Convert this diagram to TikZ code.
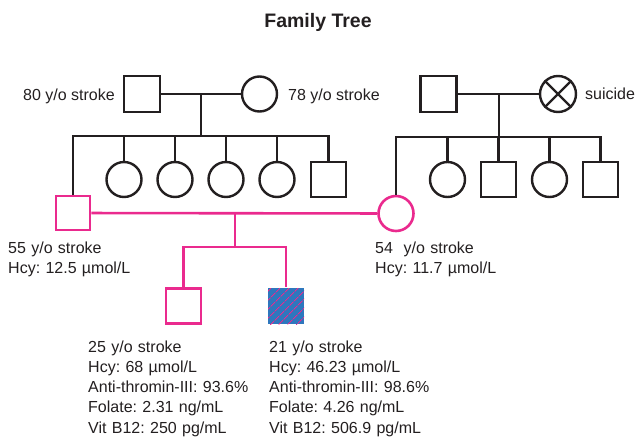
\documentclass[tikz,border=0pt]{standalone}
\usepackage{fontspec}
\setmainfont{Liberation Sans}
\usetikzlibrary{patterns.meta}
\definecolor{ink}{HTML}{231F20}
\definecolor{pk}{HTML}{EA2A8E}
\definecolor{fb}{HTML}{2E77BE}
\frenchspacing
\begin{document}
\begin{tikzpicture}[x=1pt,y=-1pt,
  ln/.style={draw=ink,line width=2.4pt},
  pl/.style={draw=pk,line width=2.6pt},
  male/.style={rectangle,minimum size=36pt,inner sep=0pt,line width=2.4pt,draw=ink,fill=white},
  female/.style={circle,minimum size=35pt,inner sep=0pt,line width=2.4pt,draw=ink,fill=white},
  lbl/.style={inner sep=0pt,text=ink,font=\fontsize{16}{20.3}\selectfont\frenchspacing},
  blk/.style={lbl,text width=220pt,align=left,anchor=base west}]
\useasboundingbox (0,0) rectangle (635,437);
\node[inner sep=0pt,anchor=base,text=ink,font=\fontsize{19.5}{22}\selectfont\bfseries] (title) at (318,27) {Family Tree};
% generation I left
\node[male] (ga) at (142,94) {};
\node[female] (gb) at (259.5,94) {};
\coordinate (ma) at (201,94);
\coordinate (sa) at (201,136);
% generation I right
\node[male] (gc) at (438.5,94) {};
\node[female,minimum size=36pt] (gd) at (558,94) {};
\coordinate (mb) at (499,94);
\coordinate (sb) at (499,137);
% children left family
\node[female] (l1) at (124,179.5) {};
\node[female] (l2) at (175,179.5) {};
\node[female] (l3) at (226,179.5) {};
\node[female] (l4) at (277,179.5) {};
\node[male,minimum size=35pt] (l5) at (328.5,179.5) {};
% children right family
\node[female] (r1) at (447.5,179.5) {};
\node[male,minimum size=35pt] (r2) at (498.5,179.5) {};
\node[female] (r3) at (549.5,179.5) {};
\node[male,minimum size=35pt] (r4) at (600.5,179.5) {};
% generation II couple
\node[male,draw=pk,minimum size=34pt,line width=2.6pt] (pa) at (73,213) {};
\node[female,draw=pk,line width=2.6pt] (pb) at (396,213.5) {};
\coordinate (mc) at (235,213);
\coordinate (sc) at (235,247);
% generation III
\node[male,draw=pk,minimum size=35pt,line width=2.6pt] (ca) at (183.5,306) {};
\node[male,draw=none,fill=fb,minimum size=36pt,
  postaction={pattern={Lines[angle=45,distance=6.5pt,line width=0.9pt]},pattern color=pk}] (cb) at (286,306) {};
% connectors generation I
\draw[ln] (ga) -- (gb);
\draw[ln] (gc) -- (gd);
\draw[ln] (gd.north east) -- (gd.south west);
\draw[ln] (gd.north west) -- (gd.south east);
\draw[ln] (ma) -- (sa);
\draw[ln] (mb) -- (sb);
\draw[ln] (pa.north) -- (pa.north |- sa) -- (l5.north |- sa) -- (l5.north);
\foreach \k in {l1,l2,l3,l4} \draw[ln] (\k.north) -- (\k.north |- sa);
\draw[ln] (pb.north) -- (pb.north |- sb) -- (r4.north |- sb) -- (r4.north);
\foreach \k in {r1,r2,r3} \draw[ln] (\k.north) -- (\k.north |- sb);
% connectors generation II
\draw[pl] (pa) -- (pb);
\draw[pl] (mc) -- (sc);
\draw[pl] (ca.north) -- (ca.north |- sc) -- (cb.north |- sc) -- (cb.north);
% labels
\node[lbl,anchor=base east] (t1) at (115,100) {80 y/o stroke};
\node[lbl,anchor=base west] (t2) at (288,100) {78 y/o stroke};
\node[lbl,anchor=base west] (t3) at (585,99) {suicide};
\node[blk] (t4) at (8,253) {55 y/o stroke\\Hcy: 12.5 µmol/L};
\node[blk] (t5) at (375,253) {54\ \ y/o stroke\\Hcy: 11.7 µmol/L};
\node[blk] (t6) at (88,352) {25 y/o stroke\\Hcy: 68 µmol/L\\Anti-thromin-III: 93.6\%\\Folate: 2.31 ng/mL\\Vit B12: 250 pg/mL};
\node[blk] (t7) at (269,352) {21 y/o stroke\\Hcy: 46.23 µmol/L\\Anti-thromin-III: 98.6\%\\Folate: 4.26 ng/mL\\Vit B12: 506.9 pg/mL};
\end{tikzpicture}
\end{document}
